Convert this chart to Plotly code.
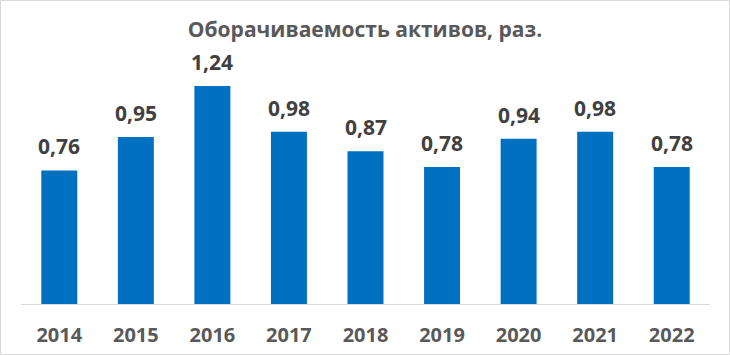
import plotly.graph_objects as go

years = ["2014", "2015", "2016", "2017", "2018", "2019", "2020", "2021", "2022"]
turnover = [0.76, 0.95, 1.24, 0.98, 0.87, 0.78, 0.94, 0.98, 0.78]

W, H = 730, 355
ml, mr, mt, mb = 21, 20, 58, 51
pw, ph = W - ml - mr, H - mt - mb

fig = go.Figure(go.Bar(
    x=years, y=turnover,
    marker=dict(color="#0070C0", line=dict(width=0)),
    hoverinfo="skip",
))

for i, v in enumerate(turnover):
    fig.add_annotation(
        x=i, y=v, xref="x", yref="y",
        text=f"{v:.2f}".replace(".", ","),
        showarrow=False, yanchor="bottom", yshift=8,
        font=dict(family="Open Sans", size=21, color="#404040", weight="bold"),
    )

def px_x(p):
    return (p - ml) / pw

def px_y(p):
    return 1 - (p - mt) / ph

fig.add_shape(type="rect", xref="paper", yref="paper",
              x0=px_x(0.5), x1=px_x(W - 0.5), y0=px_y(H - 0.5), y1=px_y(0.5),
              line=dict(color="#D9D9D9", width=1), layer="below")

fig.update_layout(
    width=W, height=H,
    margin=dict(l=ml, r=mr, t=mt, b=mb, autoexpand=False),
    paper_bgcolor="white", plot_bgcolor="white",
    bargap=0.53,
    showlegend=False,
    title=dict(text="Оборачиваемость активов, раз.", x=0.5, xanchor="center",
               y=1 - 30 / H, yanchor="middle",
               font=dict(family="Open Sans", size=21, color="#595959", weight="bold")),
    xaxis=dict(type="category", range=[-0.5, len(years) - 0.5], automargin=False,
               showline=True, linecolor="#D9D9D9", linewidth=1, ticks="",
               tickfont=dict(family="Open Sans", size=20, color="#595959", weight="bold"),
               ticklabelstandoff=13, showgrid=False),
    yaxis=dict(range=[0, 1.4], visible=False, showgrid=False, automargin=False),
)

fig.write_html("out.html")
